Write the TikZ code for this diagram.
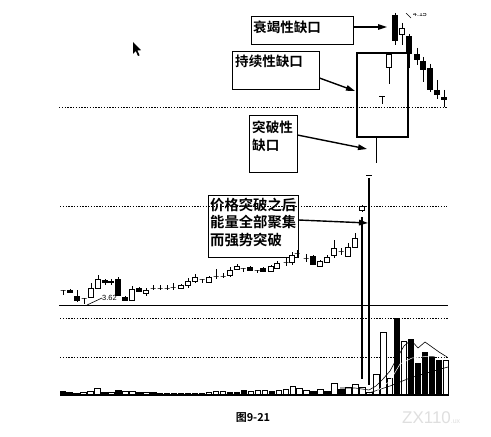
\documentclass[tikz,border=0pt]{standalone}
\usepackage{fontspec}
\setmainfont{Liberation Sans}
\newfontfamily\cjk{Noto Sans CJK SC Bold}
\usetikzlibrary{arrows.meta}
\newcommand\cdl[6]{%
  \draw[wick] (#1,#2) -- (#1,#5);
  \filldraw[body, fill=#6] (#1-2.5,#3) rectangle (#1+2.5,#4);}
\begin{document}
\begin{tikzpicture}[x=1bp,y=-1bp,
  wick/.style={line width=0.6bp},
  body/.style={line width=0.6bp, draw=black},
  dotl/.style={line width=0.8bp, dash pattern=on 1.4bp off 1.4bp},
  boxn/.style={draw, line width=0.8bp, inner sep=0, rectangle},
  gapbox/.style={draw, line width=2bp, inner sep=0, rectangle},
  callout/.style={line width=1.4bp, -{Triangle[length=9bp,width=5.5bp]}},
  cn/.style={font=\cjk\fontsize{13.6}{17}\selectfont, anchor=west, inner sep=0},
  cnb/.style={font=\cjk\fontsize{14.4}{17.5}\selectfont, anchor=west, inner sep=0},
  vbar/.style={line width=0.6bp, draw=black}]
\useasboundingbox (0,0) rectangle (491,437);
\fill[white] (0,0) rectangle (491,437);

% reference lines
\draw[dotl] (59,107) -- (447,107);
\draw[dotl] (60,206) -- (447,206);
\draw[line width=0.8bp] (59,305) -- (448,305);
\draw[dotl] (60,318) -- (448,318);
\draw[dotl] (60,357) -- (448,357);

% cursor
\fill (133,42) -- (133,54) -- (135.8,51) -- (138,56) -- (139.6,55.3) -- (137.4,50.5) -- (141,50.2) -- cycle;

% boxes
\node[boxn, minimum width=102bp, minimum height=28bp] (b1) at (302,30) {};
\node[cn] (t1) at (253,27) {衰竭性缺口};
\node[boxn, minimum width=87bp, minimum height=38bp] (b2) at (275.5,70) {};
\node[cn] (t2) at (235,61) {持续性缺口};
\node[boxn, minimum width=48bp, minimum height=57bp] (b3) at (273,143.5) {};
\node[cn] (t3a) at (252,127) {突破性};
\node[cn] (t3b) at (252,145) {缺口};
\node[boxn, minimum width=90bp, minimum height=62bp] (b4) at (253,226) {};
\node[cnb] (t4a) at (210,205) {价格突破之后};
\node[cnb] (t4b) at (210,222.5) {能量全部聚集};
\node[cnb] (t4c) at (210,240) {而强势突破};

% gap rectangle
\node[gapbox, minimum width=51bp, minimum height=84bp] (gap) at (382.5,95) {};
\cdl{389}{54}{54}{67}{84}{white}
\draw[wick] (379,96) -- (385,96) (382,96) -- (382,104);
\draw[wick] (376,137) -- (376,163);

% top candles
\cdl{395}{13}{15}{40}{45}{black}
\cdl{402}{23}{28}{34}{45}{white}
\cdl{409}{34}{36}{53}{68}{black}
\cdl{417}{48}{54}{59}{65}{black}
\cdl{423}{57}{61}{69}{82}{black}
\cdl{430}{64}{68}{89}{92}{black}
\cdl{437}{80}{90}{94}{99}{black}
\cdl{444}{90}{97}{99}{107}{black}
\begin{scope}
\clip (400,13.5) rectangle (440,30);
\draw[wick] (406,13) -- (411,18);
\node[font=\fontsize{7}{8}\selectfont, anchor=west, inner sep=0] (hi) at (413,14) {4.15};
\end{scope}

% targets
\coordinate (tA) at (387,27);
\coordinate (tB) at (355,91);
\coordinate (tC) at (367,149);
\coordinate (tD) at (368,223);
\draw[callout] (b1.east |- t1.west) -- (tA);
\draw[callout] ([yshift=-8bp]b2.east) -- (tB);
\draw[callout] ([yshift=8.5bp]b3.east) -- (tC);
\draw[callout] ([yshift=6bp]b4.east) -- (tD);

% middle candles
\foreach \x/\a/\b/\c/\d/\f in {
63/290/290/290/295/black, 70/289/290/292/293/black, 77/290/296/300/302/black,
84/298/298/298/304/black, 91/283/288/297/298/white, 98/275/279/288/289/white,
105/279/280/282/285/black, 111/279/281/282/285/black, 118/277/279/295/296/black,
125/296/297/300/301/black, 132/286/289/300/301/white, 139/287/288/291/292/black,
146/288/290/293/296/white, 153/285/288/288/290/black, 160/285/288/288/290/black,
167/285/288/288/290/black, 173/283/287/287/290/black, 181/284/285/288/289/white,
188/278/281/285/288/white, 195/274/277/281/283/white, 202/279/279/279/283/black,
209/276/277/282/283/white, 216/269/276/276/279/black, 223/273/276/276/278/black,
230/267/270/275/277/white, 237/264/266/269/270/white, 243/268/268/268/272/black,
250/266/267/270/271/black, 257/270/270/270/273/black, 263/267/268/271/272/black,
271/265/266/271/272/white, 277/261/263/268/269/white, 286/258/262/262/266/black,
292/252/255/262/265/white, 297/250/253/253/258/black, 306/254/258/258/262/black,
313/255/256/264/265/black, 320/260/261/266/267/white, 327/255/257/262/263/white,
334/240/248/255/258/white, 341/248/251/251/255/black, 348/243/247/256/257/white,
355/233/238/247/248/white, 362/205/206/210/212/white}
  {\cdl{\x}{\a}{\b}{\c}{\d}{\f}}
\draw[wick] (87,305) -- (102,298);
\node[font=\fontsize{7.5}{8}\selectfont, anchor=west, inner sep=0] (low) at (102,297.5) {3.62};

% long lines
\draw[wick] (366,175) -- (372,175);
\draw[line width=1.6bp] (362,217) -- (362,379);
\draw[line width=1.6bp] (369,178) -- (369,385);

% volume bars
\foreach \h/\f [count=\i from 0] in {4/black,3/black,2/black,3/white,4/white,7/white,3/black,3/white,5/black,4/white,
 4/white,3/black,3/white,3/black,2/black,2/black,2/black,2/black,2/black,2/black,
 2/black,3/white,4/white,4/white,3/black,3/black,5/black,4/white,5/white,5/white,
 4/black,5/white,6/white,9/white,7/white,5/white,4/black,6/white,4/black,12/white,
 6/black,8/white,11/white,8/white,3/white,21/white,63/white,17/white,77/black,54/white,
 56/black,32/black,43/black,39/black,35/black,35/white}
 {\pgfmathsetmacro\xx{62.5+6.97*\i}
  \filldraw[vbar, fill=\f] (\xx-2.7,395) rectangle (\xx+2.7,395-\h);}
\draw[line width=1.2bp] (60,395) -- (448,395);
\draw[line width=0.6bp] (340,388) -- (355,388) -- (369,390) -- (376,386) -- (383,379) -- (390,371) -- (397,358) -- (404,346) -- (411,340) -- (418,348) -- (425,342) -- (432,347) -- (439,352) -- (447,357);
\draw[line width=0.6bp] (369,393) -- (390,386) -- (410,378) -- (430,372) -- (448,367);
\draw[line width=0.5bp, white] (376,392) -- (390,381) -- (400,364) -- (412,358) -- (430,356) -- (446,357);

% caption and watermark
\node[font=\cjk\fontsize{11}{12}\selectfont, inner sep=0] (cap) at (253,418) {图9-21};
\node[font=\fontsize{17}{18}\selectfont, text=gray!25, anchor=west, inner sep=0] (wm) at (402,418) {ZX110\fontsize{7}{8}\selectfont .ux};
\end{tikzpicture}
\end{document}
